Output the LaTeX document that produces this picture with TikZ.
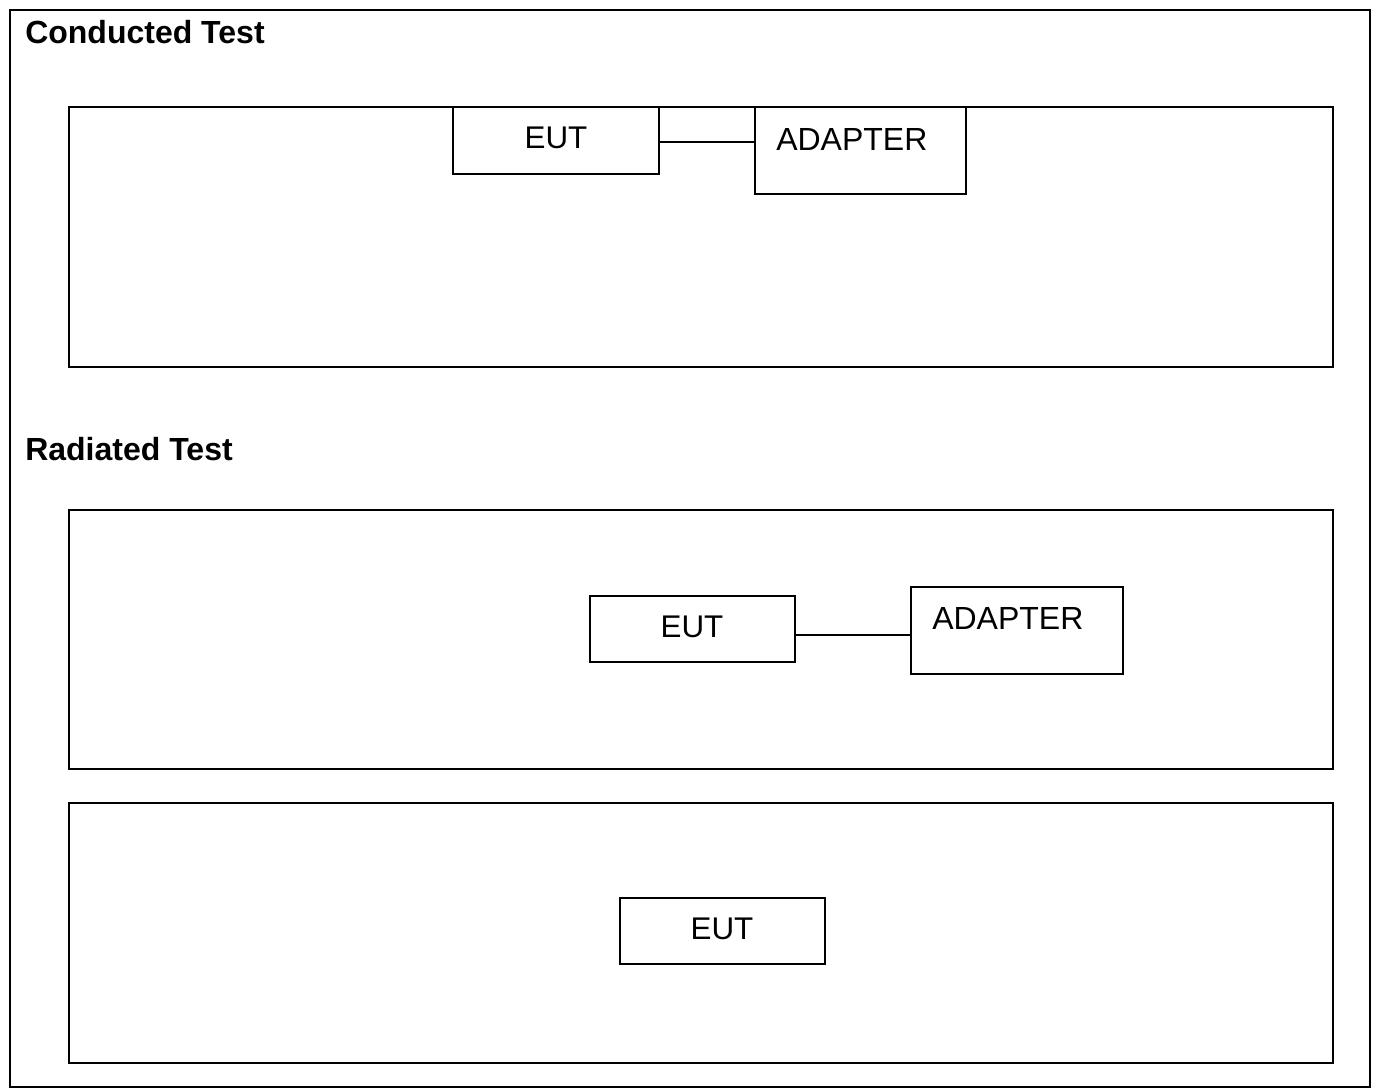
\documentclass[tikz,border=0pt]{standalone}
\usepackage{fontspec}
\setmainfont{Liberation Sans}
\begin{document}
\begin{tikzpicture}[x=0.75pt,y=-0.75pt,
  frame/.style={draw=black,line width=2.2pt},
  area/.style={draw=black,line width=1.3pt},
  unit/.style={draw=black,line width=1.1pt,rectangle,inner sep=0pt},
  title/.style={font=\fontsize{24pt}{28pt}\selectfont\bfseries,anchor=base west,inner sep=0pt},
  lbl/.style={font=\fontsize{23.5pt}{28pt}\selectfont,inner sep=0pt},
  wide/.style={font=\fontsize{24pt}{28pt}\selectfont,inner sep=0pt,anchor=west},
  wire/.style={draw=black,line width=1.1pt}]
\useasboundingbox (0,0) rectangle (1375,1091);
\fill[white] (0,0) rectangle (1375,1091);
% outer frame
\node[frame,rectangle,inner sep=0pt,minimum width=1360*0.75pt,minimum height=1077*0.75pt] (outer) at (690,548.5) {};
% titles
\node[title] (t1) at (25,44) {Conducted Test};
\node[title] (t2) at (25,460) {Radiated Test};
% areas
\node[area,rectangle,inner sep=0pt,minimum width=1264*0.75pt,minimum height=260*0.75pt] (a1) at (701,237) {};
\node[area,rectangle,inner sep=0pt,minimum width=1264*0.75pt,minimum height=259*0.75pt] (a2) at (701,639.5) {};
\node[area,rectangle,inner sep=0pt,minimum width=1264*0.75pt,minimum height=260*0.75pt] (a3) at (701,933) {};
% conducted
\node[unit,minimum width=206*0.75pt,minimum height=67*0.75pt] (eut1) at (556,140.5) {};
\node[lbl] (eut1t) at (556,138) {EUT};
\node[unit,minimum width=211*0.75pt,minimum height=87*0.75pt] (ad1) at (860.5,150.5) {};
\node[wide] (ad1t) at (776,139) {ADAPTER};
\draw[wire] (eut1.east |- 0,142) -- (ad1.west |- 0,142);
% radiated
\node[unit,minimum width=205*0.75pt,minimum height=66*0.75pt] (eut2) at (692.5,629) {};
\node[lbl] (eut2t) at (692,627) {EUT};
\node[unit,minimum width=212*0.75pt,minimum height=87*0.75pt] (ad2) at (1017,630.5) {};
\node[wide] (ad2t) at (932,618) {ADAPTER};
\draw[wire] (eut2.east |- 0,635) -- (ad2.west |- 0,635);
% radiated 2
\node[unit,minimum width=205*0.75pt,minimum height=66*0.75pt] (eut3) at (722.5,931) {};
\node[lbl] (eut3t) at (722,929) {EUT};
\end{tikzpicture}
\end{document}
